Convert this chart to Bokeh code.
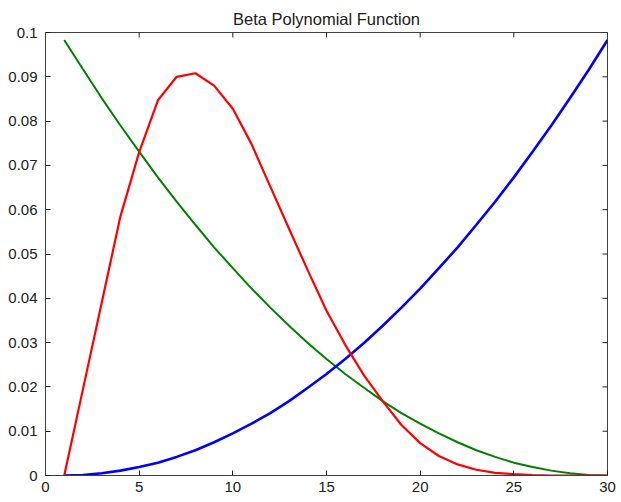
import math
from bokeh.plotting import figure
from bokeh.models import FixedTicker, NumeralTickFormatter, Range1d
from bokeh.embed import file_html
from bokeh.resources import INLINE

x = list(range(1, 31))
red = [0, 0.0195, 0.039, 0.0585, 0.073, 0.0847, 0.0900, 0.0908, 0.0880, 0.0828,
       0.0748, 0.0652, 0.0557, 0.0463, 0.0372, 0.0295, 0.0226, 0.0168, 0.0114, 0.0073,
       0.0044, 0.0025, 0.0013, 0.0006, 0.0003, 0.0001, 0, 0, 0, 0]
green = [0.0983, 0.0917, 0.0852, 0.0790, 0.0731, 0.0673, 0.0618, 0.0566, 0.0515, 0.0468,
         0.0422, 0.0379, 0.0338, 0.0299, 0.0263, 0.0229, 0.0198, 0.0168, 0.0141, 0.0117,
         0.0095, 0.0075, 0.0057, 0.0042, 0.0029, 0.0019, 0.0011, 0.0005, 0.0001, 0]
blue = [0, 0.0001, 0.0005, 0.0011, 0.0019, 0.0029, 0.0042, 0.0057, 0.0075, 0.0095,
        0.0117, 0.0141, 0.0168, 0.0198, 0.0229, 0.0263, 0.0299, 0.0338, 0.0379, 0.0422,
        0.0468, 0.0515, 0.0566, 0.0618, 0.0673, 0.0731, 0.0790, 0.0852, 0.0916, 0.0983]
x_ticks = [0, 5, 10, 15, 20, 25, 30]
y_ticks = [0, 0.01, 0.02, 0.03, 0.04, 0.05, 0.06, 0.07, 0.08, 0.09, 0.1]
title = "Beta Polynomial Function"

FONT = "Liberation Sans"
X_MIN, X_MAX = 0, 30
Y_MIN, Y_MAX = 0, 0.1

p = figure(width=621, height=500, output_backend="svg", toolbar_location=None,
           x_range=Range1d(X_MIN, X_MAX), y_range=Range1d(Y_MIN, Y_MAX), title=title,
           min_border_left=45, min_border_right=14, min_border_top=32, min_border_bottom=25)
p.title.align = "center"
p.title.vertical_align = "top"
p.title.standoff = 6
p.title.offset = -3
p.title.text_font = FONT
p.title.text_font_size = "16.5px"
p.title.text_font_style = "normal"
p.title.text_color = "#202020"
p.xgrid.visible = False
p.ygrid.visible = False
p.outline_line_color = "#404040"
p.outline_line_width = 1
p.background_fill_color = "white"
p.border_fill_color = "white"

p.line(x, green, line_color="#008000", line_width=2)
p.line(x, blue, line_color="#0000ff", line_width=2.6)
p.line(x, red, line_color="#ff0000", line_width=2.2)

for ax in (p.xaxis[0], p.yaxis[0]):
    ax.axis_line_color = "#404040"
    ax.major_tick_line_color = "#202020"
    ax.major_tick_in = 5
    ax.major_tick_out = 0
    ax.minor_tick_in = 0
    ax.minor_tick_out = 0
    ax.major_label_text_font = FONT
    ax.major_label_text_font_size = "15px"
    ax.major_label_text_color = "#202020"

p.xaxis.ticker = FixedTicker(ticks=x_ticks)
p.yaxis.ticker = FixedTicker(ticks=y_ticks)
p.yaxis.formatter = NumeralTickFormatter(format="0.[00]")
p.xaxis.major_label_standoff = 6
p.yaxis.major_label_standoff = 8

# mirrored inner ticks on top and right sides of the box
p.ray(x=x_ticks, y=[Y_MAX] * len(x_ticks), length=5, length_units="screen",
      angle=-math.pi / 2, line_color="#202020", line_width=1)
p.ray(x=[X_MAX] * len(y_ticks), y=y_ticks, length=5, length_units="screen",
      angle=math.pi, line_color="#202020", line_width=1)

open("out.html", "w").write(file_html(p, INLINE))
